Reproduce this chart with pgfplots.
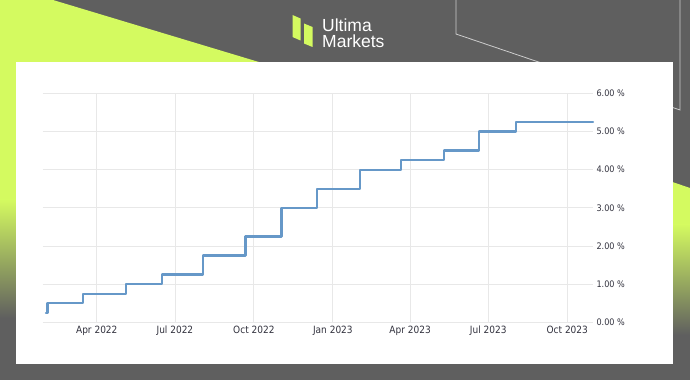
\documentclass[border=0pt]{standalone}
\usepackage{pgfplots}
\pgfplotsset{compat=1.18}
\usepackage{fontspec}
\setmainfont{Liberation Sans}
\newfontfamily\tickfont{DejaVu Sans Condensed}
\definecolor{bggrey}{RGB}{95,95,95}
\definecolor{lime}{RGB}{212,250,96}
\definecolor{linecol}{RGB}{102,152,200}
\definecolor{gridcol}{RGB}{232,232,232}
\definecolor{tickcol}{RGB}{50,50,62}
\definecolor{outline}{RGB}{205,205,205}
\begin{document}
\begin{tikzpicture}
\useasboundingbox (0,0) rectangle (690bp,380bp);
\begin{scope}[x=1bp,y=-1bp,yshift=380bp]
\fill[bggrey] (0,0) rectangle (690,380);
\fill[lime] (0,0) -- (53,0) -- (300,74.4) -- (0,74.4) -- cycle;
\fill[lime] (0,70) rectangle (30,200);
\shade[top color=lime,bottom color=bggrey] (0,199.5) rectangle (30,318);
\begin{scope}
\clip (655,176) -- (690,188) -- (690,340) -- (655,340) -- cycle;
\fill[lime] (655,170) rectangle (690,225);
\shade[top color=lime,bottom color=bggrey] (655,224.5) rectangle (690,335);
\end{scope}
\draw[outline,line width=0.8bp] (456,-1) -- (456,34) -- (680,110) -- (680,-1);
\fill[white] (16,62) rectangle (673,364);
\fill[lime] (292.5,15) -- (300.5,18.5) -- (300.5,40.5) -- (292.5,37) -- cycle;
\fill[lime] (304,23.5) -- (312.5,27) -- (312.5,47) -- (304,43.5) -- cycle;
\node[anchor=base west,text=white,font=\fontsize{17.5bp}{19bp}\selectfont,inner sep=0pt] at (322,31.2) {Ultima};
\node[anchor=base west,text=white,font=\fontsize{17.5bp}{19bp}\selectfont,inner sep=0pt] at (322,47.2) {Markets};
\end{scope}
\begin{axis}[
  at={(42.7bp,57.7bp)}, anchor=south west, scale only axis,
  width=550.3bp, height=229bp,
  xmin=27, xmax=668, ymin=0, ymax=6,
  axis line style={draw=none},
  major tick length=0pt,
  xtick={90,181,273,365,455,546,638},
  xticklabels={Apr 2022,Jul 2022,Oct 2022,Jan 2023,Apr 2023,Jul 2023,Oct 2023},
  ytick={0,1,2,3,4,5,6},
  yticklabel pos=right,
  /pgf/number format/assume math mode=true,
  yticklabel={\pgfmathprintnumber[fixed,fixed zerofill,precision=2]{\tick} \%},
  xticklabel style={font=\tickfont\fontsize{10bp}{12bp}\selectfont, text=tickcol},
  yticklabel style={font=\tickfont\fontsize{9bp}{11bp}\selectfont, text=tickcol},
  grid=major, grid style={gridcol, line width=0.8bp},
  clip=false,
]
\addplot[const plot, linecol, line width=2.2bp, line join=round, line cap=round] coordinates {
(30.8,0.25) (32.5,0.5) (74.4,0.75) (123.9,1.0) (165.7,1.25) (213.3,1.75)
(263.2,2.25) (305.2,3.0) (346.9,3.5) (396.3,4.0) (444.5,4.25) (494.0,4.5)
(535.6,5.0) (578.4,5.25) (668,5.25)};
\end{axis}
\end{tikzpicture}
\end{document}
